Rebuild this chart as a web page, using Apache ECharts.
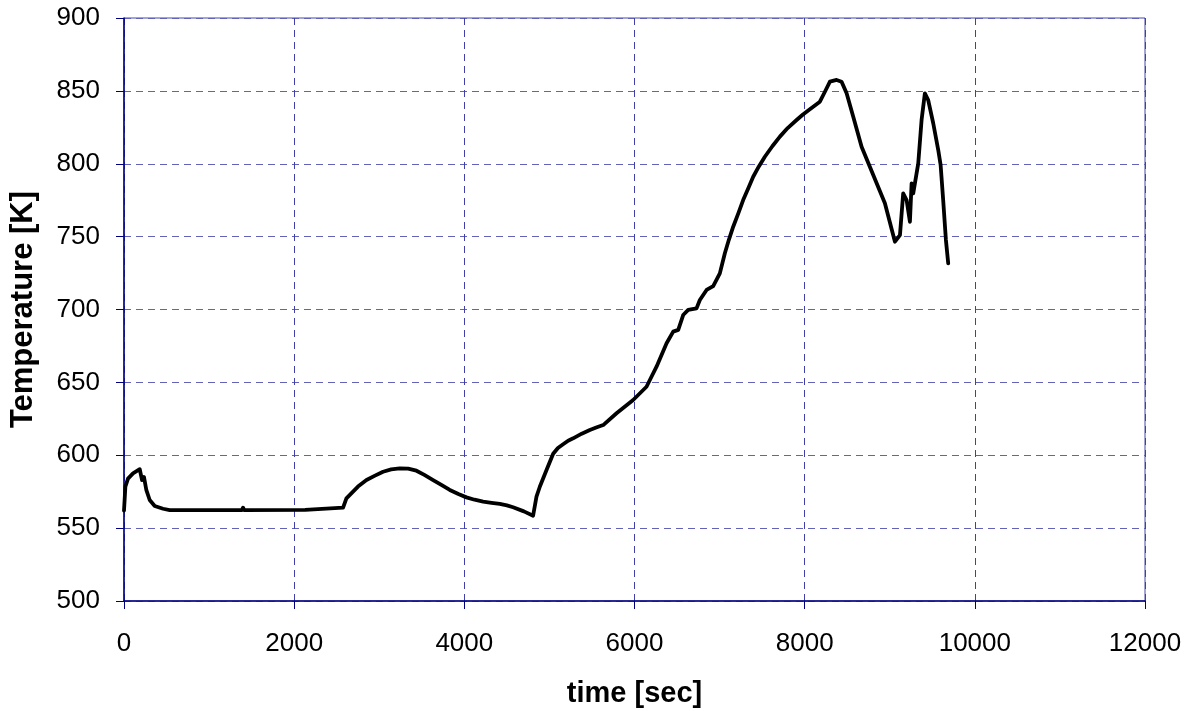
<!DOCTYPE html>
<html>
<head>
<meta charset="utf-8">
<script src="https://cdn.jsdelivr.net/npm/echarts@6/dist/echarts.min.js"></script>
<style>
html,body{margin:0;padding:0;background:#fff;}
#chart{width:1195px;height:711px;}
</style>
</head>
<body>
<div id="chart"></div>
<script>
// time [sec]
const timeSec = [0, 8, 16, 47, 106, 185, 212, 235, 263, 302, 361, 459, 537, 1000, 1385, 1399, 1413,
  2130, 2144, 2575, 2614, 2692, 2750, 2850, 2950, 3045, 3140, 3241, 3340, 3437, 3530, 3633, 3730, 3829, 3930,
  4025, 4120, 4221, 4320, 4417, 4500, 4573, 4700, 4808,
  4848, 4887, 4966, 5044, 5100, 5161, 5220, 5279, 5380, 5475, 5550, 5632, 5789, 5984, 6141, 6259, 6377, 6455, 6514, 6572,
  6631, 6729, 6768, 6847, 6925, 7003, 7062, 7110, 7160, 7220, 7277, 7340, 7395, 7460, 7532, 7620, 7709, 7800, 7905,
  7980, 8061, 8120, 8179, 8238,
  8297, 8375, 8434, 8493, 8571, 8669, 8806, 8943, 9061, 9120, 9158, 9198, 9237, 9257, 9276, 9335,
  9374, 9413, 9452, 9511, 9570, 9598, 9628, 9660, 9687];
// Temperature [K]
const temperatureK = [562, 570, 578.5, 584, 587.6, 590.4, 583, 585, 576, 569.3, 565.2, 563.3, 562.4, 562.4, 562.4, 564, 562.4,
  562.5, 563.2, 564, 570.4, 575, 578.5, 583, 586, 588.7, 590.3, 591, 590.8, 589.4, 586.5, 583, 579.6, 576.2, 573.4,
  571.1, 569.5, 568.2, 567.4, 566.6, 565.6, 564.3, 561.5, 558.5,
  571.6, 578.4, 589.9, 601, 605, 607.5, 610, 611.6, 614.8, 617.3, 619, 620.7, 628.8, 637.9, 647, 660.8, 676.8, 684.8, 686, 696.2,
  699.7, 700.8, 706.5, 713.4, 716.1, 724.8, 738.6, 748, 756.8, 766, 775.1, 783.5, 791.1, 798, 804.8, 812, 818.6, 824.5, 830,
  833.8, 837.4, 840, 842.6, 849.4,
  856.3, 857.5, 856.3, 848.3, 832.3, 811.7, 792.3, 772.9, 746.5, 751.1, 779.7, 775.1, 760.2, 786.6, 779.7, 800.3,
  830, 848.3, 843.7, 827.8, 809.4, 799.1, 775.1, 747.7, 731.7];

const xTitle = 'time [sec]';
const yTitle = 'Temperature [K]';

const seriesData = timeSec.map((t, i) => [t, temperatureK[i]]);

const font = '"Liberation Sans", Arial, sans-serif';
const chart = echarts.init(document.getElementById('chart'), null, {renderer: 'canvas'});
chart.setOption({
  animation: false,
  backgroundColor: '#ffffff',
  grid: {left: 124, right: 50, top: 18, bottom: 110, containLabel: false, outerBoundsMode: 'none',
    show: true, borderColor: '#4a4aa6', borderWidth: 1, backgroundColor: 'transparent'},
  xAxis: {
    type: 'value', min: 0, max: 12000, interval: 2000,
    name: xTitle, nameLocation: 'middle', nameGap: 78,
    nameTextStyle: {fontFamily: font, fontWeight: 'bold', fontSize: 29, color: '#000'},
    axisLine: {show: true, onZero: false, lineStyle: {color: '#000080', width: 1.5}},
    axisTick: {show: true, length: 8, lineStyle: {color: '#000080', width: 1}},
    axisLabel: {fontFamily: font, fontSize: 26, color: '#000', margin: 30, formatter: v => String(v)},
    splitLine: {show: true, lineStyle: {color: '#4040a8', width: 1, type: [7, 5]}}
  },
  yAxis: {
    type: 'value', min: 500, max: 900, interval: 50,
    name: yTitle, nameLocation: 'middle', nameGap: 85, nameRotate: 90,
    nameTextStyle: {fontFamily: font, fontWeight: 'bold', fontSize: 31, color: '#000'},
    axisLine: {show: true, onZero: false, lineStyle: {color: '#000080', width: 1.5}},
    axisTick: {show: true, length: 8, lineStyle: {color: '#000080', width: 1}},
    axisLabel: {fontFamily: font, fontSize: 26, color: '#000', margin: 24, formatter: v => String(v)},
    splitLine: {show: true, lineStyle: {color: '#6262b8', width: 1, type: [7, 5]}}
  },
  series: [{
    type: 'line', data: seriesData, showSymbol: false, smooth: false,
    lineStyle: {color: '#000', width: 3.8, join: 'round', cap: 'round'},
    itemStyle: {color: '#000'}
  }]
});
</script>
</body>
</html>
